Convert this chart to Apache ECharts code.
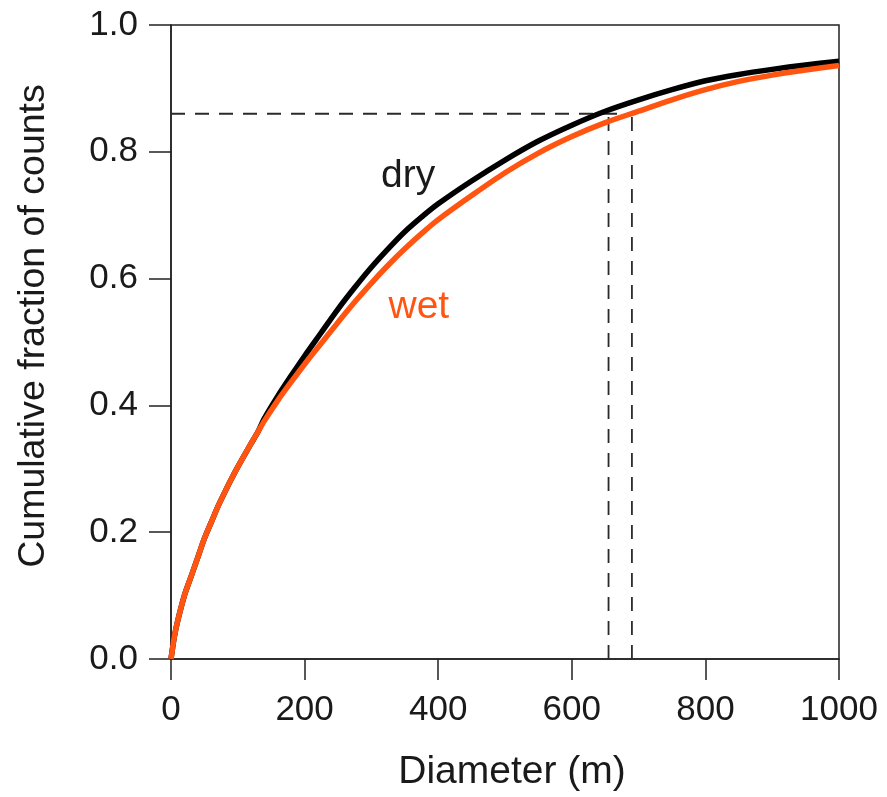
<!DOCTYPE html>
<html>
<head>
<meta charset="utf-8">
<script src="https://cdn.jsdelivr.net/npm/echarts@6/dist/echarts.min.js"></script>
<style>
  html, body { margin: 0; padding: 0; background: #fff; }
  #chart { width: 887px; height: 797px; }
</style>
</head>
<body>
<div id="chart"></div>
<script>
// diameter (m)
var diameters = [0, 5, 10, 20, 30, 40, 50, 60, 70, 80, 90, 100, 120, 130, 140, 160, 180, 200, 225, 250, 275, 300, 325, 350, 375, 400, 450, 500, 550, 600, 650, 700, 750, 800, 850, 900, 950, 1000];
// cumulative fraction, wet
var wetValues = [0, 0.035, 0.06, 0.10, 0.13, 0.16, 0.19, 0.215, 0.24, 0.262, 0.283, 0.303, 0.34, 0.358, 0.376, 0.408, 0.437, 0.465, 0.498, 0.531, 0.563, 0.593, 0.621, 0.647, 0.671, 0.693, 0.731, 0.767, 0.798, 0.824, 0.846, 0.864, 0.882, 0.898, 0.911, 0.921, 0.929, 0.936];
// cumulative fraction, dry
var dryValues = [0, 0.035, 0.06, 0.10, 0.13, 0.16, 0.19, 0.215, 0.24, 0.262, 0.283, 0.303, 0.34, 0.358, 0.38, 0.415, 0.447, 0.478, 0.515, 0.552, 0.586, 0.618, 0.647, 0.674, 0.697, 0.718, 0.754, 0.787, 0.817, 0.842, 0.864, 0.882, 0.898, 0.912, 0.922, 0.930, 0.937, 0.943];

// dashed guide lines
var guideLevel = 0.86;
var dryCross = 655;
var wetCross = 690;

var labelTexts = ['dry', 'wet'];
var labelPos = [[355, 0.761], [371, 0.555]];

function pairs(xs, ys) {
  var out = [];
  for (var i = 0; i < xs.length; i++) out.push([xs[i], ys[i]]);
  return out;
}

var font = 'Liberation Sans, Arial, Helvetica, sans-serif';
var textColor = '#1a1a1a';
var wetColor = '#ff5511';
var dashStyle = { color: '#2a2a2a', width: 1.8, type: [14, 10] };

var chart = echarts.init(document.getElementById('chart'));
var option = {
  animation: false,
  backgroundColor: '#fff',
  grid: {
    left: 171, right: 48, top: 25, bottom: 136,
    show: true, borderColor: '#222', borderWidth: 1.5
  },
  xAxis: {
    type: 'value', min: 0, max: 1000, interval: 200,
    name: 'Diameter (m)', nameLocation: 'middle', nameGap: 94,
    nameTextStyle: { fontFamily: font, fontSize: 39, color: textColor, padding: [0, 0, 0, 14] },
    axisLine: { show: true, lineStyle: { color: '#222', width: 1.5 } },
    axisTick: { show: true, length: 21, lineStyle: { color: '#222', width: 1.5 } },
    axisLabel: {
      fontFamily: font, fontSize: 35, color: textColor, margin: 34,
      formatter: function (v) { return String(v); }
    },
    splitLine: { show: false }
  },
  yAxis: {
    type: 'value', min: 0, max: 1, interval: 0.2,
    name: 'Cumulative fraction of counts', nameLocation: 'middle', nameGap: 118,
    nameTextStyle: { fontFamily: font, fontSize: 37.5, color: textColor, padding: [0, 0, 0, 32] },
    axisLine: { show: true, lineStyle: { color: '#222', width: 1.5 } },
    axisTick: { show: true, length: 22, lineStyle: { color: '#222', width: 1.5 } },
    axisLabel: {
      fontFamily: font, fontSize: 35, color: textColor, margin: 33,
      formatter: function (v) { return v.toFixed(1); }
    },
    splitLine: { show: false }
  },
  series: [
    {
      name: 'guide-h', type: 'line', symbol: 'none', silent: true,
      data: [[0, guideLevel], [wetCross, guideLevel]],
      lineStyle: dashStyle, z: 1
    },
    {
      name: 'guide-dry', type: 'line', symbol: 'none', silent: true,
      data: [[dryCross, 0], [dryCross, guideLevel]],
      lineStyle: dashStyle, z: 1
    },
    {
      name: 'guide-wet', type: 'line', symbol: 'none', silent: true,
      data: [[wetCross, 0], [wetCross, guideLevel]],
      lineStyle: dashStyle, z: 1
    },
    {
      name: 'dry', type: 'line', symbol: 'none', smooth: 0.3,
      data: pairs(diameters, dryValues),
      lineStyle: { color: '#000', width: 5.5 }, z: 3
    },
    {
      name: 'wet', type: 'line', symbol: 'none', smooth: 0.3,
      data: pairs(diameters, wetValues),
      lineStyle: { color: wetColor, width: 5.5 }, z: 4
    },
    {
      name: 'labels', type: 'scatter', symbolSize: 0, silent: true,
      itemStyle: { opacity: 1 },
      data: labelPos.map(function (p, i) {
        return {
          value: p,
          label: {
            show: true, position: 'inside', formatter: labelTexts[i],
            fontFamily: font, fontSize: 39, opacity: 1,
            textBorderWidth: 0,
            color: i === 0 ? textColor : wetColor
          }
        };
      }),
      z: 5
    }
  ]
};
chart.setOption(option);
</script>
</body>
</html>
